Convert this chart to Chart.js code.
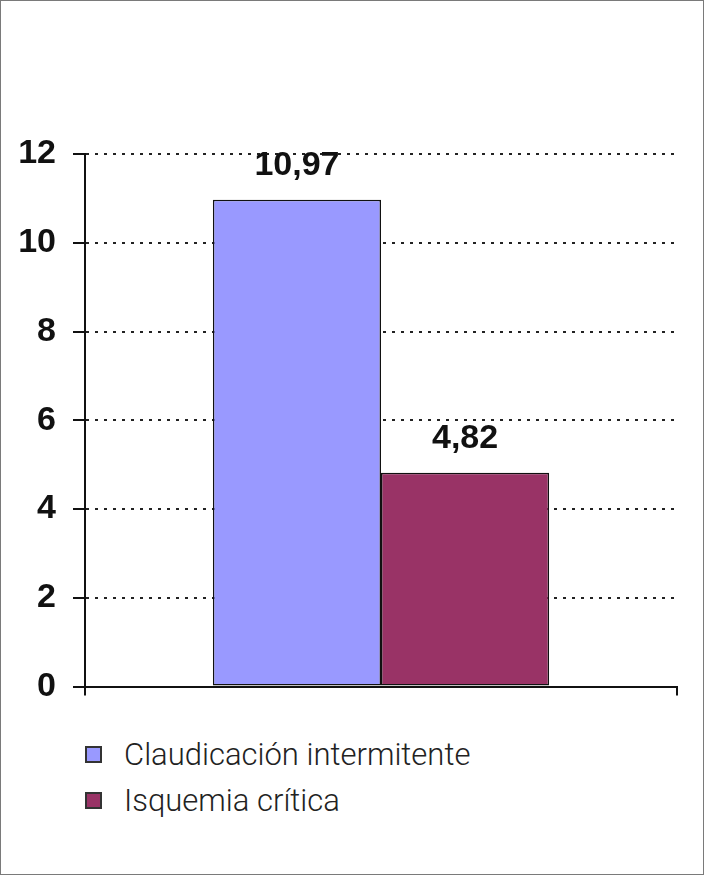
<!DOCTYPE html>
<html>
<head>
<meta charset="utf-8">
<script src="https://cdn.jsdelivr.net/npm/chart.js@4"></script>
<style>
  html, body { margin: 0; padding: 0; background: #fff; }
  #frame { position: relative; width: 704px; height: 875px; box-sizing: border-box; border: 1px solid #7a7a7a; overflow: hidden; }
  #wrap { position: absolute; left: -1px; top: -1px; width: 704px; height: 724px; }
  #legend { position: absolute; left: 84px; top: 730px; font-family: Roboto, "Liberation Sans", sans-serif; font-weight: 300; font-size: 31px; color: #222; }
  .item { display: flex; align-items: center; height: 46px; }
  .box { width: 13px; height: 13px; border: 2px solid #333; margin-right: 22px; }
</style>
</head>
<body>
<div id="frame">
  <div id="wrap"><canvas id="myChart" width="704" height="724"></canvas></div>
  <div id="legend"></div>
</div>
<script>
"use strict";

var categories = [''];
var seriesNames = ['Claudicación intermitente', 'Isquemia crítica'];
var claudicacion = [10.97];
var isquemia = [4.82];
var seriesColors = ['#9999ff', '#993366'];
var yMin = 0, yMax = 12, yStep = 2;

// etiquetas de valor encima de cada barra
var valueLabels = {
    id: 'valueLabels',
    afterDatasetsDraw: function (chart) {
        var ctx = chart.ctx;
        ctx.save();
        ctx.font = 'bold 34px "Liberation Sans", Arial, sans-serif';
        ctx.fillStyle = '#111';
        ctx.textAlign = 'center';
        ctx.textBaseline = 'alphabetic';
        chart.data.datasets.forEach(function (ds, i) {
            chart.getDatasetMeta(i).data.forEach(function (bar, j) {
                var txt = ds.data[j].toFixed(2).replace('.', ',');
                ctx.fillText(txt, bar.x, bar.y - 25);
            });
        });
        ctx.restore();
    }
};

var data = {
    labels: categories,
    datasets: [
        {
            label: seriesNames[0],
            data: claudicacion,
            backgroundColor: seriesColors[0],
            borderColor: '#111',
            borderWidth: 1.5,
            borderSkipped: false
        },
        {
            label: seriesNames[1],
            data: isquemia,
            backgroundColor: seriesColors[1],
            borderColor: '#111',
            borderWidth: 1.5,
            borderSkipped: false
        }]
};

var chart = new Chart(document.getElementById('myChart'), {
    type: 'bar',
    data: data,
    options: {
        responsive: false,
        animation: false,
        categoryPercentage: 0.568,
        barPercentage: 1.0,
        layout: { padding: { top: 154, right: 27, left: 0, bottom: 0 } },
        plugins: {
            legend: { display: false },
            tooltip: { enabled: false }
        },
        scales: {
            x: {
                ticks: { display: false },
                grid: { drawOnChartArea: false, drawTicks: true, tickLength: 9, color: '#111', lineWidth: 2, tickBorderDash: [] },
                border: { color: '#111', width: 2 },
                afterFit: function (s) { s.height = 28; }
            },
            y: {
                min: yMin,
                max: yMax,
                ticks: {
                    stepSize: yStep,
                    padding: 17,
                    color: '#111',
                    font: { family: '"Liberation Sans", Arial, sans-serif', size: 34, weight: 'bold' }
                },
                grid: { color: '#222', lineWidth: 2, tickLength: 12, tickColor: '#111', tickBorderDash: [] },
                border: { color: '#111', width: 2, dash: [3, 6] },
                afterFit: function (s) { s.width = 85; }
            }
        }
    },
    plugins: [valueLabels]
});

// leyenda
var legend = document.getElementById('legend');
seriesNames.forEach(function (name, i) {
    var item = document.createElement('div');
    item.className = 'item';
    item.innerHTML = '<span class="box" style="background:' + seriesColors[i] + '"></span><span>' + name + '</span>';
    legend.appendChild(item);
});
</script>
</body>
</html>
